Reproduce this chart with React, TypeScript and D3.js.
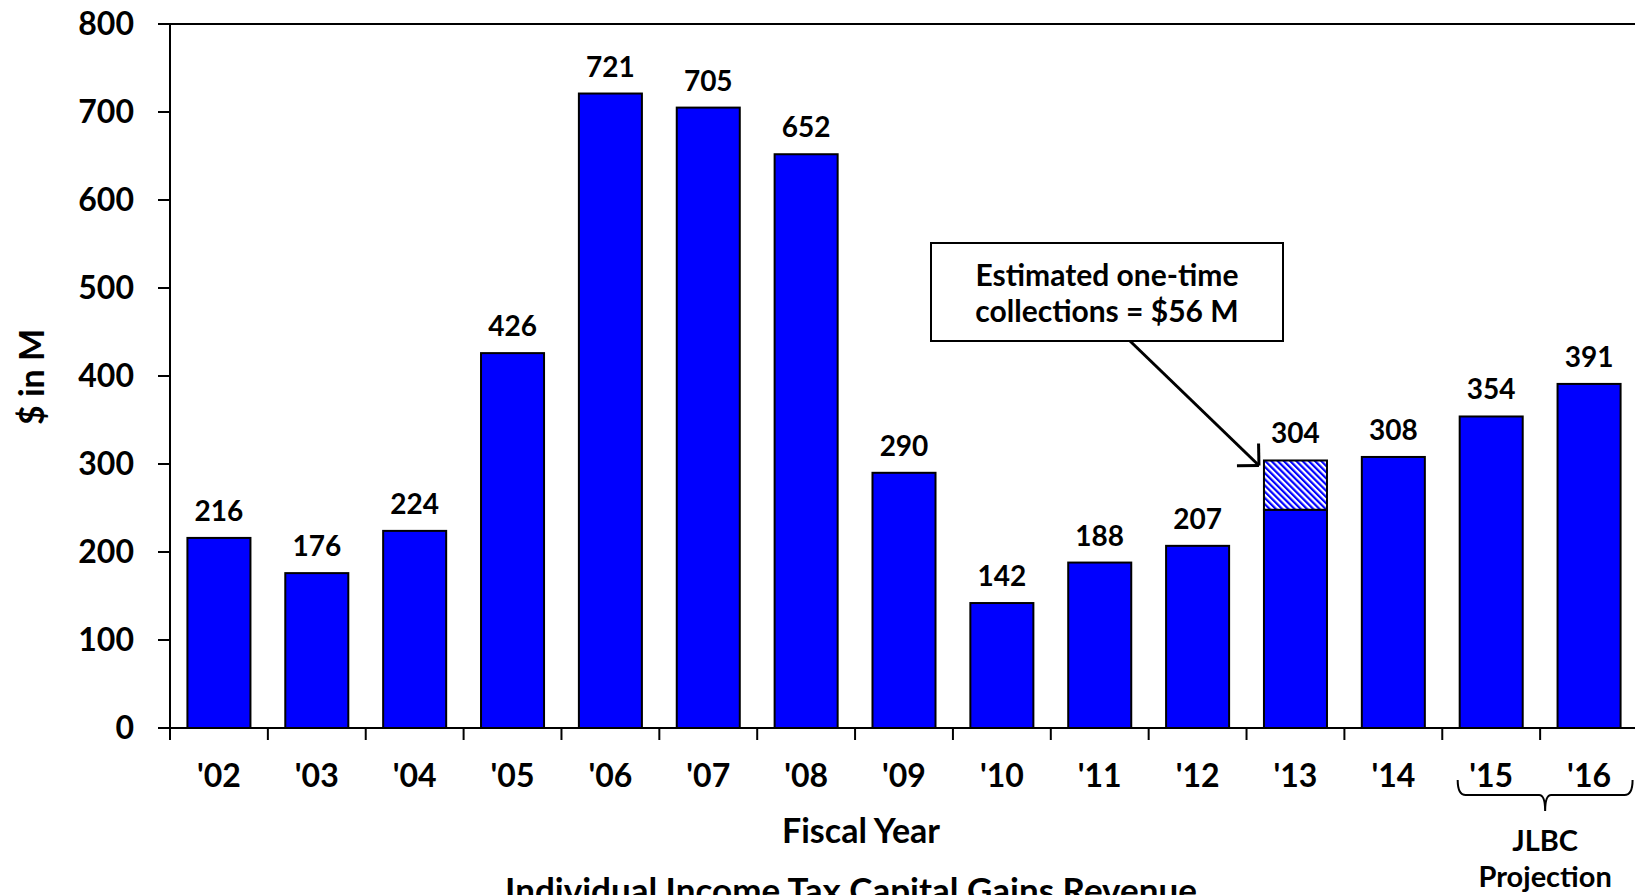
import React from "react";
import * as d3 from "d3";

const categories = ["'02", "'03", "'04", "'05", "'06", "'07", "'08", "'09", "'10", "'11", "'12", "'13", "'14", "'15", "'16"];
const totals = [216, 176, 224, 426, 721, 705, 652, 290, 142, 188, 207, 304, 308, 354, 391];
const oneTime = [0, 0, 0, 0, 0, 0, 0, 0, 0, 0, 0, 56, 0, 0, 0];
const yTicks = [0, 100, 200, 300, 400, 500, 600, 700, 800];
const annotationLines = ["Estimated one-time", "collections = $56 M"];
const projectionCats = ["'15", "'16"];
const projectionLabel = ["JLBC", "Projection"];

const W = 1635;
const H = 895;
const FONT = "Lato, 'Open Sans', sans-serif";

export default function App() {
  const left = 170;
  const right = 1638;
  const top = 24;
  const bottom = 728;

  const x = d3.scaleBand<string>().domain(categories).range([left, right]).paddingInner(0.356).paddingOuter(0.178);
  const y = d3.scaleLinear().domain([0, 800]).range([bottom, top]);
  const step = x.step();
  const bw = x.bandwidth();

  const rows = categories.map((c, i) => ({ c, total: totals[i], extra: oneTime[i], base: totals[i] - oneTime[i] }));

  const annotIdx = oneTime.findIndex((v) => v > 0);
  const annotBar = rows[annotIdx];
  const tipX = (x(annotBar.c) as number) - 5;
  const tipY = y(annotBar.total) + 5;
  const startX = 1130;
  const startY = 341;
  const ang = Math.atan2(tipY - startY, tipX - startX);
  const armLen = 22;
  const a1 = ang + Math.PI - Math.PI / 4;
  const a2 = ang + Math.PI + Math.PI / 4;

  const pStart = (x(projectionCats[0]) as number) - 2;
  const pEnd = (x(projectionCats[1]) as number) + bw + 12;
  const pMid = (pStart + pEnd) / 2;
  const bTop = 780;
  const bY = 795;
  const bracket = `M${pStart},${bTop} Q${pStart},${bY} ${pStart + 8},${bY} L${pMid - 6},${bY} Q${pMid},${bY} ${pMid},${bY + 16} Q${pMid},${bY} ${pMid + 6},${bY} L${pEnd - 8},${bY} Q${pEnd},${bY} ${pEnd},${bTop}`;

  return (
    <svg width={W} height={H} style={{ position: "absolute", left: 0, top: 0, background: "#fff" }} fontFamily={FONT} fontWeight="bold">
      <defs>
        <pattern id="hatch" patternUnits="userSpaceOnUse" width={4.4} height={4.4} patternTransform="rotate(-45)">
          <rect x={0} y={0} width={4.4} height={4.4} fill="#fff" />
          <rect x={0} y={0} width={2.2} height={4.4} fill="#0000ff" />
        </pattern>
      </defs>

      {/* bars */}
      {rows.map((r) => (
        <g key={r.c}>
          <rect x={x(r.c)} y={y(r.base)} width={bw} height={bottom - y(r.base)} fill="#0000ff" stroke="#000" strokeWidth={2} />
          {r.extra > 0 && (
            <rect x={x(r.c)} y={y(r.total)} width={bw} height={y(r.base) - y(r.total)} fill="url(#hatch)" stroke="#000" strokeWidth={2} />
          )}
          <text x={(x(r.c) as number) + bw / 2} y={y(r.total) - 17} textAnchor="middle" fontSize={28} fill="#000">
            {r.total}
          </text>
        </g>
      ))}

      {/* top border */}
      <line x1={left - 12} x2={W + 10} y1={top} y2={top} stroke="#000" strokeWidth={2} />
      {/* y axis */}
      <line x1={left} x2={left} y1={top} y2={bottom + 12} stroke="#000" strokeWidth={2} />
      {yTicks.map((t) => (
        <g key={t}>
          <line x1={left - 12} x2={left} y1={y(t)} y2={y(t)} stroke="#000" strokeWidth={2} />
          <text x={134} y={y(t) + 11} textAnchor="end" fontSize={32} fill="#000">
            {t}
          </text>
        </g>
      ))}
      {/* x axis */}
      <line x1={left - 12} x2={W + 10} y1={bottom} y2={bottom} stroke="#000" strokeWidth={2} />
      {categories.map((c, i) => (
        <line key={"t" + c} x1={left + (i + 1) * step} x2={left + (i + 1) * step} y1={bottom} y2={bottom + 12} stroke="#000" strokeWidth={2} />
      ))}
      {categories.map((c) => (
        <text key={"l" + c} x={(x(c) as number) + bw / 2} y={787} textAnchor="middle" fontSize={32} fill="#000">
          {c}
        </text>
      ))}

      {/* axis titles */}
      <text transform={`translate(44,377) rotate(-90)`} textAnchor="middle" fontSize={34} fill="#000">
        $ in M
      </text>
      <text x={861} y={843} textAnchor="middle" fontSize={34} fill="#000">
        Fiscal Year
      </text>
      <text x={851} y={903} textAnchor="middle" fontSize={35} fill="#000">
        Individual Income Tax Capital Gains Revenue
      </text>

      {/* annotation */}
      <rect x={931} y={243} width={352} height={98} fill="#fff" stroke="#000" strokeWidth={2} />
      {annotationLines.map((l, i) => (
        <text key={l} x={1107} y={286 + i * 36} textAnchor="middle" fontSize={30} fill="#000">
          {l}
        </text>
      ))}
      <line x1={startX} y1={startY} x2={tipX} y2={tipY} stroke="#000" strokeWidth={3} />
      <line x1={tipX} y1={tipY} x2={tipX + armLen * Math.cos(a1)} y2={tipY + armLen * Math.sin(a1)} stroke="#000" strokeWidth={3} />
      <line x1={tipX} y1={tipY} x2={tipX + armLen * Math.cos(a2)} y2={tipY + armLen * Math.sin(a2)} stroke="#000" strokeWidth={3} />

      {/* projection bracket */}
      <path d={bracket} fill="none" stroke="#000" strokeWidth={2} />
      {projectionLabel.map((l, i) => (
        <text key={l} x={pMid} y={851 + i * 36} textAnchor="middle" fontSize={29} fill="#000">
          {l}
        </text>
      ))}
    </svg>
  );
}
